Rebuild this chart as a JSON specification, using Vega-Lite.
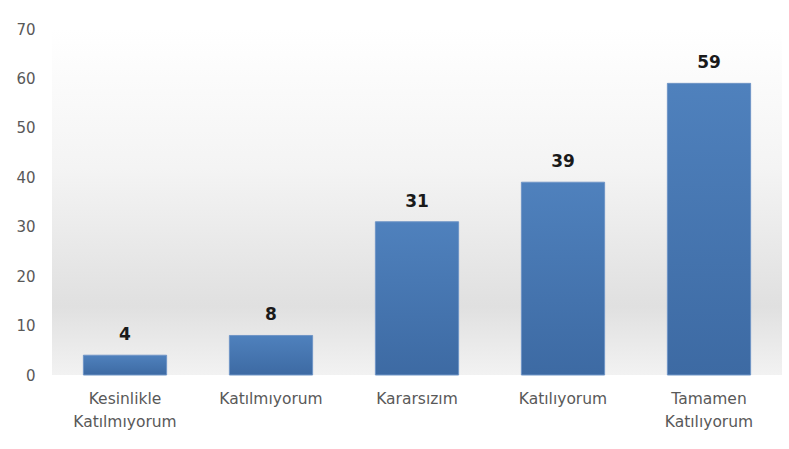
{
  "$schema": "https://vega.github.io/schema/vega-lite/v6.json",
  "width": 730,
  "height": 346,
  "autosize": {"type": "none"},
  "padding": {"left": 52, "top": 29, "right": 7, "bottom": 74},
  "background": "white",
  "config": {
    "view": {
      "stroke": null,
      "fill": {
        "gradient": "linear",
        "x1": 0, "y1": 0, "x2": 0, "y2": 1,
        "stops": [
          {"offset": 0, "color": "#ffffff"},
          {"offset": 0.4, "color": "#f4f4f4"},
          {"offset": 0.8, "color": "#e0e0e0"},
          {"offset": 1, "color": "#f2f2f2"}
        ]
      }
    },
    "font": "DejaVu Sans"
  },
  "data": {
    "values": [
      {"kategori": "Kesinlikle Katılmıyorum", "deger": 4},
      {"kategori": "Katılmıyorum", "deger": 8},
      {"kategori": "Kararsızım", "deger": 31},
      {"kategori": "Katılıyorum", "deger": 39},
      {"kategori": "Tamamen Katılıyorum", "deger": 59}
    ]
  },
  "encoding": {
    "x": {
      "field": "kategori",
      "type": "nominal",
      "sort": null,
      "scale": {"paddingInner": 0.43, "paddingOuter": 0.215},
      "axis": {
        "title": null,
        "labelAngle": 0,
        "domain": false,
        "ticks": false,
        "labelPadding": 16,
        "labelFontSize": 15.5,
        "labelColor": "#595959",
        "labelFont": "DejaVu Sans",
        "labelLineHeight": 23,
        "labelExpr": "split(datum.label, ' ')"
      }
    },
    "y": {
      "field": "deger",
      "type": "quantitative",
      "scale": {"domain": [0, 70]},
      "axis": {
        "title": null,
        "values": [0, 10, 20, 30, 40, 50, 60, 70],
        "grid": false,
        "domain": false,
        "ticks": false,
        "labelPadding": 17,
        "labelFontSize": 15,
        "labelColor": "#595959",
        "labelFont": "DejaVu Sans"
      }
    }
  },
  "layer": [
    {
      "mark": {
        "type": "bar",
        "stroke": "#6f95c6",
        "strokeWidth": 1,
        "fill": {
          "gradient": "linear",
          "x1": 0, "y1": 0, "x2": 0, "y2": 1,
          "stops": [
            {"offset": 0, "color": "#4f81bd"},
            {"offset": 1, "color": "#3d6aa3"}
          ]
        }
      }
    },
    {
      "mark": {
        "type": "text",
        "baseline": "alphabetic",
        "dy": -15,
        "fontSize": 17,
        "fontWeight": "bold",
        "color": "#1a1a1a",
        "font": "DejaVu Sans"
      },
      "encoding": {"text": {"field": "deger", "type": "quantitative"}}
    }
  ]
}
